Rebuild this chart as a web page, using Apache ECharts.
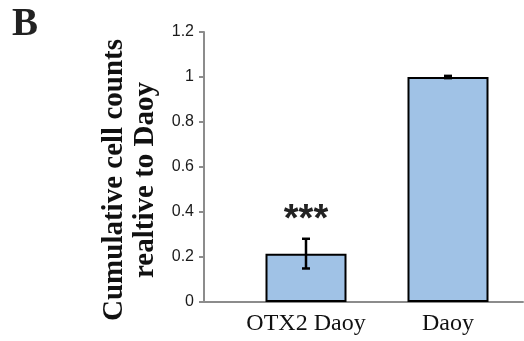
<!DOCTYPE html>
<html><head><meta charset="utf-8">
<script src="https://cdn.jsdelivr.net/npm/echarts@6/dist/echarts.min.js"></script>
<style>html,body{margin:0;padding:0;background:#fff}#c{width:524px;height:341px}</style>
</head><body><div id="c"></div>
<script>
const categories = ['OTX2 Daoy', 'Daoy'];
const values = [0.215, 1.0];
const errors = [0.066, 0.005];
const yTicks = [0, 0.2, 0.4, 0.6, 0.8, 1, 1.2];
const sigLabels = ['***', ''];

const chart = echarts.init(document.getElementById('c'));
chart.setOption({
  animation: false,
  grid: [
    {left: 235, right: 5, top: 32, bottom: 39, containLabel: false},
    {left: 204, right: 1, top: 32, bottom: 39, containLabel: false}
  ],
  graphic: [
    {type: 'text', left: 12, top: 5, style: {text: 'B', font: 'bold 39px "Liberation Serif"', fill: '#222'}}
  ],
  xAxis: [{
    type: 'category', data: categories, gridIndex: 0,
    axisLine: {show: false},
    axisTick: {show: false},
    axisLabel: {color: '#111', fontFamily: 'Liberation Serif', fontSize: 24, margin: 10, interval: 0}
  }, {
    type: 'value', gridIndex: 1, min: 0, max: 1,
    axisLine: {show: true, lineStyle: {color: '#8c8c8c', width: 2}},
    axisTick: {show: false}, axisLabel: {show: false}, splitLine: {show: false}
  }],
  yAxis: [{
    type: 'value', gridIndex: 0, min: 0, max: 1.2, interval: 0.2, offset: 31,
    name: 'Cumulative cell counts\nrealtive to Daoy', nameLocation: 'middle', nameGap: 33,
    nameTextStyle: {fontFamily: 'Liberation Serif', fontWeight: 'bold', fontSize: 29, color: '#111', lineHeight: 31, padding: [0, 26, 0, 0]},
    axisLine: {show: true, lineStyle: {color: '#8c8c8c', width: 2}},
    axisTick: {show: true, length: 5, lineStyle: {color: '#8c8c8c', width: 2}},
    splitLine: {show: false},
    axisLabel: {color: '#1a1a1a', fontFamily: 'Liberation Sans', fontSize: 16, margin: 10,
      formatter: v => { const t = yTicks.find(x => Math.abs(x - v) < 1e-9); return t === undefined ? '' : String(t); }}
  }, {
    type: 'value', gridIndex: 1, show: false, min: 0, max: 1
  }],
  series: [
    {type: 'bar', data: values, barWidth: 81, xAxisIndex: 0, yAxisIndex: 0,
     itemStyle: {color: '#a0c2e6', borderColor: '#000', borderWidth: 2}},
    {type: 'custom', data: values.map((v, i) => [i, v, errors[i]]), xAxisIndex: 0, yAxisIndex: 0,
     renderItem: (params, api) => {
       const x = api.value(0), v = api.value(1), e = api.value(2);
       const top = api.coord([x, v + e]), bot = api.coord([x, v - e]);
       const w = 4;
       const st = {stroke: '#000', lineWidth: 2.5};
       return {type: 'group', children: [
         {type: 'line', shape: {x1: top[0], y1: top[1], x2: bot[0], y2: bot[1]}, style: st},
         {type: 'line', shape: {x1: top[0] - w, y1: top[1], x2: top[0] + w, y2: top[1]}, style: st},
         {type: 'line', shape: {x1: bot[0] - w, y1: bot[1], x2: bot[0] + w, y2: bot[1]}, style: st}
       ]};
     }, z: 5},
    {type: 'custom', data: values.map((v, i) => [i, v + errors[i]]), xAxisIndex: 0, yAxisIndex: 0,
     renderItem: (params, api) => {
       const p = api.coord([api.value(0), api.value(1)]);
       const txt = sigLabels[params.dataIndex];
       return {type: 'text', x: p[0], y: p[1] + 1, style: {text: txt, font: 'bold 38px "Liberation Sans"', fill: '#222', align: 'center', verticalAlign: 'bottom'}};
     }, z: 6}
  ]
});
</script></body></html>
